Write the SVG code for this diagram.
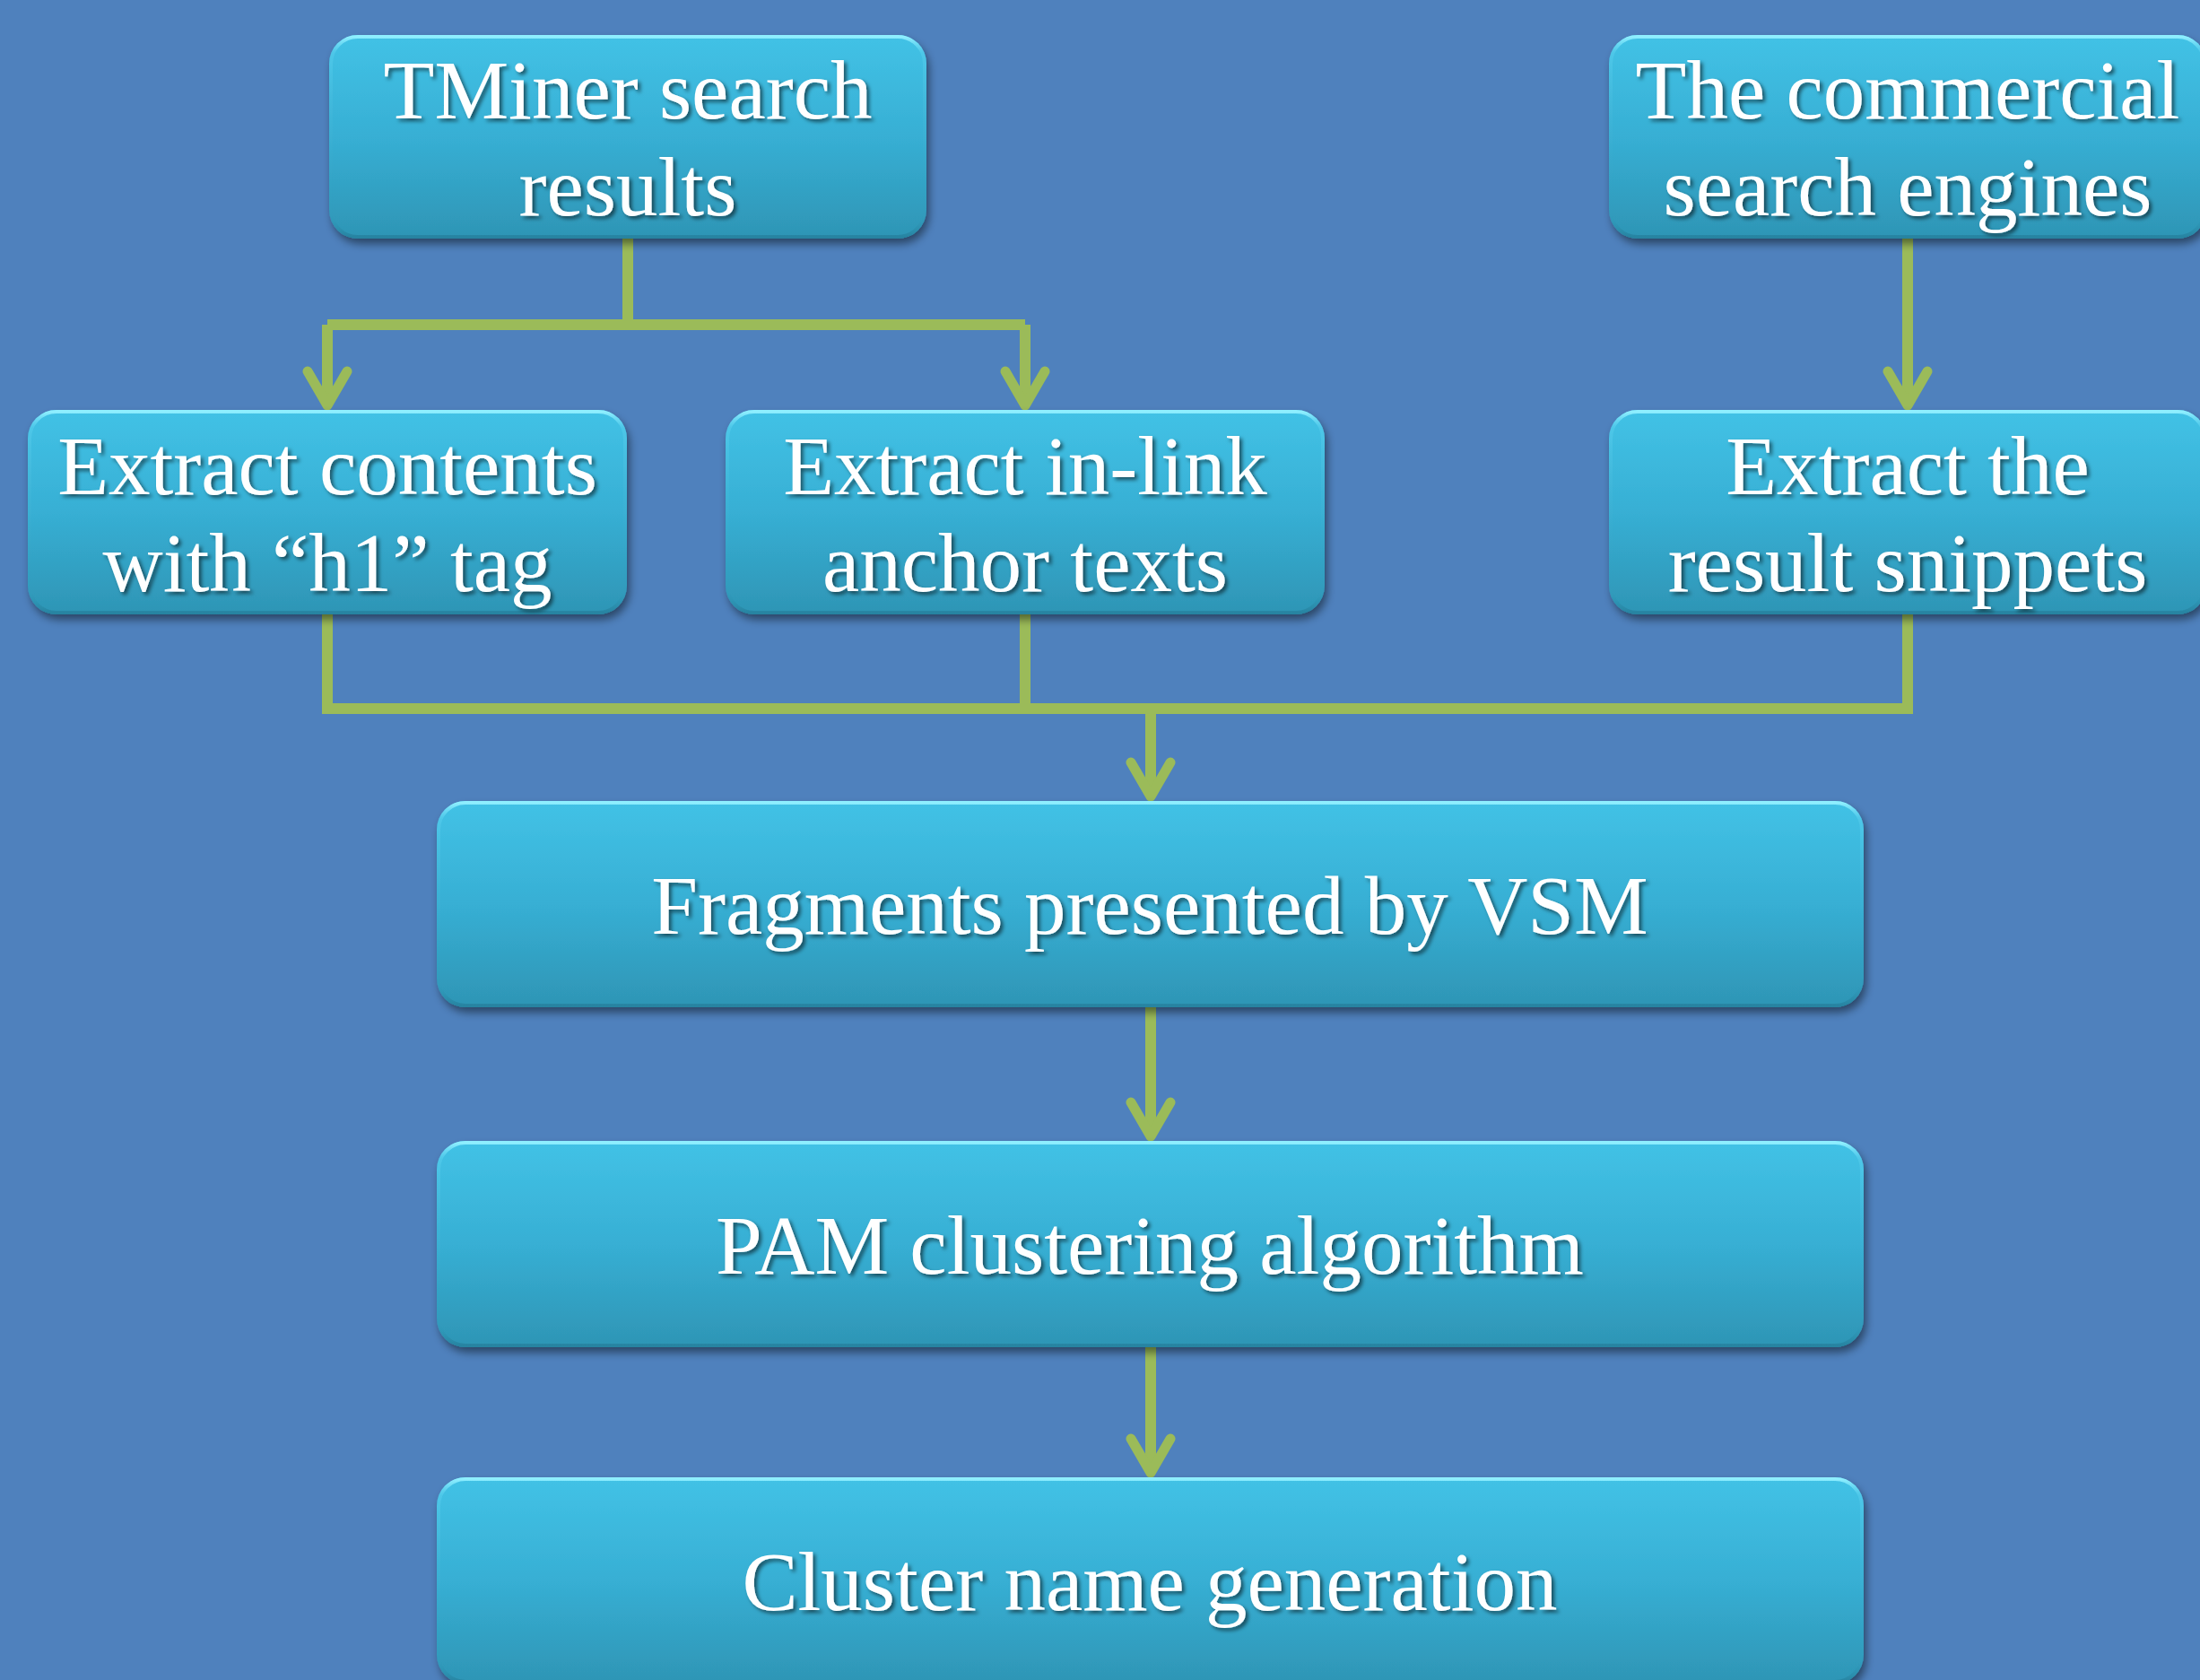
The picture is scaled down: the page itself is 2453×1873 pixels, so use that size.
<svg xmlns="http://www.w3.org/2000/svg" width="2453" height="1873" viewBox="0 0 2453 1873">
<defs>
<style>
.box{fill:url(#boxg);filter:url(#sh)}
.edge{fill:none;stroke:url(#edgeg);stroke-width:4}
.lbl{font-family:"Liberation Serif","Times New Roman",serif;font-size:93px;fill:#fff;text-anchor:middle;filter:url(#tsh)}
.con{fill:none;stroke:#9BBB59;stroke-width:12;stroke-linejoin:miter}
.arr{marker-end:url(#ah)}
</style>
<linearGradient id="boxg" x1="0" y1="0" x2="0" y2="1">
<stop offset="0" stop-color="#42C2E6"/>
<stop offset="0.5" stop-color="#37AFD4"/>
<stop offset="1" stop-color="#2E95B5"/>
</linearGradient>
<linearGradient id="edgeg" x1="0" y1="0" x2="0" y2="1">
<stop offset="0" stop-color="#8FEFFF"/>
<stop offset="0.08" stop-color="#6ADAF5" stop-opacity="0.3"/>
<stop offset="0.9" stop-color="#2E95B5" stop-opacity="0"/>
<stop offset="1" stop-color="#257F9C" stop-opacity="0.8"/>
</linearGradient>
<filter id="sh" x="-5%" y="-10%" width="110%" height="130%">
<feDropShadow dx="3" dy="6" stdDeviation="5" flood-color="#000" flood-opacity="0.45"/>
</filter>
<filter id="tsh" x="-5%" y="-20%" width="110%" height="140%">
<feDropShadow dx="3" dy="3" stdDeviation="2" flood-color="#000" flood-opacity="0.55"/>
</filter>
<marker id="ah" markerUnits="userSpaceOnUse" viewBox="-50 -30 60 60" markerWidth="60" markerHeight="60" refX="-5" refY="0" orient="auto">
<path d="M-38,-22 L0,0 L-38,22" fill="none" stroke="#9BBB59" stroke-width="11" stroke-linecap="round" stroke-linejoin="round"/>
</marker>
</defs>
<rect x="0" y="0" width="2453" height="1873" fill="#4F81BD"/>
<g id="connectors">
<path class="con" d="M700,266 V362"/>
<path class="con" d="M365,362 H1143"/>
<path class="con arr" d="M365,362 V447"/>
<path class="con arr" d="M1143,362 V447"/>
<path class="con arr" d="M2127,266 V447"/>
<path class="con" d="M365,685 V790 H2127 V685"/>
<path class="con" d="M1143,685 V790"/>
<path class="con arr" d="M1283,790 V883"/>
<path class="con arr" d="M1283,1123 V1262"/>
<path class="con arr" d="M1283,1502 V1637"/>
</g>
<g id="n1">
<rect class="box" x="367" y="39" width="666" height="227" rx="32"/>
<rect class="edge" x="369" y="41" width="662" height="223" rx="30"/>
<text class="lbl" x="700" y="132">TMiner search</text>
<text class="lbl" x="700" y="240">results</text>
</g>
<g id="n2">
<rect class="box" x="1794" y="39" width="666" height="227" rx="32"/>
<rect class="edge" x="1796" y="41" width="662" height="223" rx="30"/>
<text class="lbl" x="2127" y="132">The commercial</text>
<text class="lbl" x="2127" y="240">search engines</text>
</g>
<g id="n3">
<rect class="box" x="31" y="457" width="668" height="228" rx="32"/>
<rect class="edge" x="33" y="459" width="664" height="224" rx="30"/>
<text class="lbl" x="365" y="551">Extract contents</text>
<text class="lbl" x="365" y="659">with “h1” tag</text>
</g>
<g id="n4">
<rect class="box" x="809" y="457" width="668" height="228" rx="32"/>
<rect class="edge" x="811" y="459" width="664" height="224" rx="30"/>
<text class="lbl" x="1143" y="551">Extract in-link</text>
<text class="lbl" x="1143" y="659">anchor texts</text>
</g>
<g id="n5">
<rect class="box" x="1794" y="457" width="666" height="228" rx="32"/>
<rect class="edge" x="1796" y="459" width="662" height="224" rx="30"/>
<text class="lbl" x="2127" y="551">Extract the</text>
<text class="lbl" x="2127" y="659">result snippets</text>
</g>
<g id="n6">
<rect class="box" x="487" y="893" width="1591" height="230" rx="32"/>
<rect class="edge" x="489" y="895" width="1587" height="226" rx="30"/>
<text class="lbl" x="1282" y="1041">Fragments presented by VSM</text>
</g>
<g id="n7">
<rect class="box" x="487" y="1272" width="1591" height="230" rx="32"/>
<rect class="edge" x="489" y="1274" width="1587" height="226" rx="30"/>
<text class="lbl" x="1282" y="1420">PAM clustering algorithm</text>
</g>
<g id="n8">
<rect class="box" x="487" y="1647" width="1591" height="230" rx="32"/>
<rect class="edge" x="489" y="1649" width="1587" height="226" rx="30"/>
<text class="lbl" x="1282" y="1795">Cluster name generation</text>
</g>
</svg>
